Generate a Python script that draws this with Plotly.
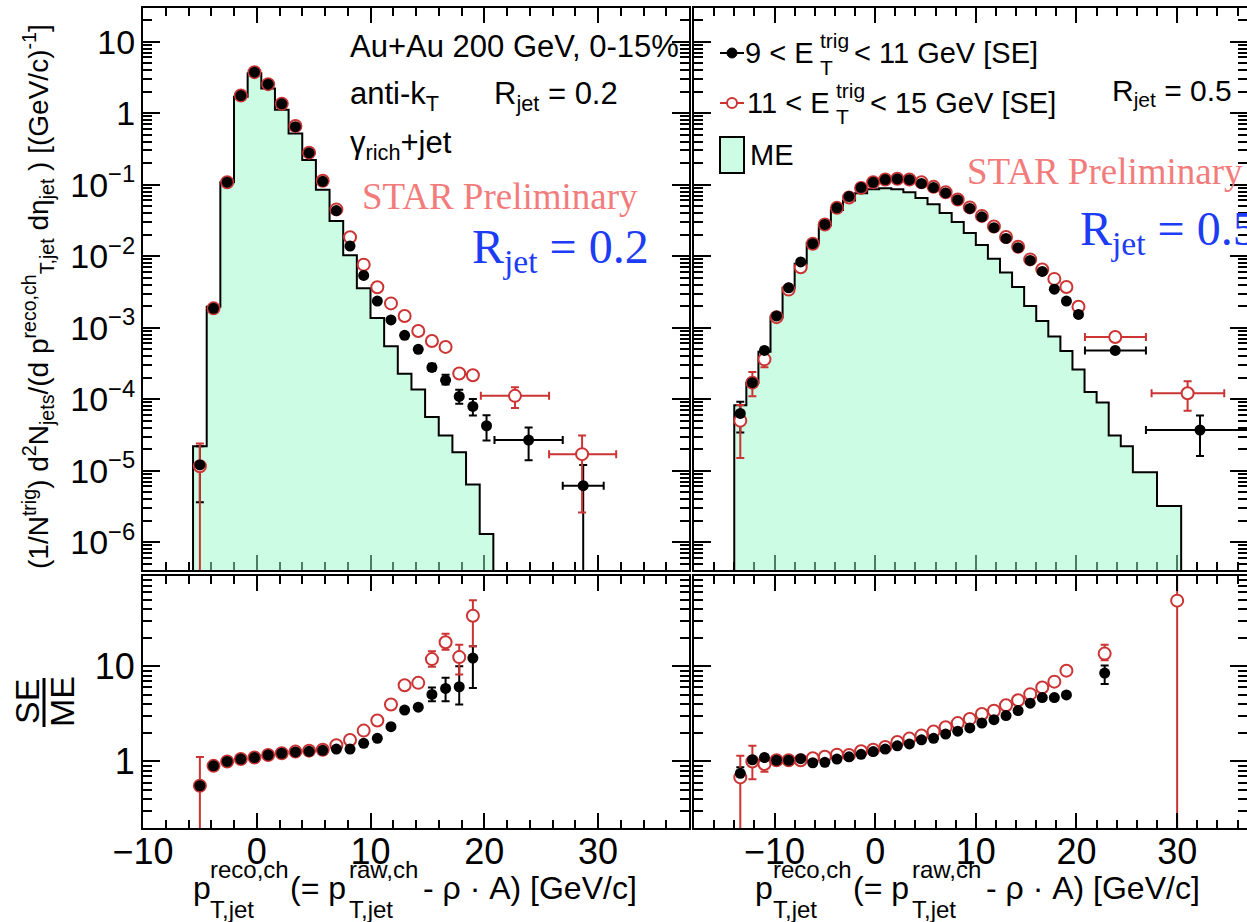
import plotly.graph_objects as go

W, H = 1247, 922
SANS = "Liberation Sans, Arial, Helvetica, sans-serif"
SERIF = "Liberation Serif, Times New Roman, serif"
RED = "#cc3333"
BLUE = "#1d3cf5"
SALMON = "#f27c7c"
FILL = "rgba(153,249,201,0.5)"

# ---------------- R_jet = 0.2 (left) ----------------
L_ME_EDGES = [-5.6, -4.4, -3.2, -2.0, -0.8, 0.4, 1.6, 2.8, 4.0, 5.2, 6.4, 7.6, 8.8,
              10.0, 11.2, 12.4, 13.6, 14.8, 16.0, 17.2, 18.4, 19.6, 20.8]
L_ME = [2.2e-5, 1.95e-3, 0.108, 1.7, 3.6, 2.2, 1.11, 0.52, 0.22, 0.085, 0.031, 0.0103,
        3.55e-3, 1.36e-3, 5.5e-4, 2.26e-4, 1.36e-4, 5.6e-5, 3.1e-5, 1.8e-5, 6.4e-6, 1.3e-6]

L_PT = [-5.0, -3.8, -2.6, -1.4, -0.2, 1.0, 2.2, 3.4, 4.6, 5.8, 7.0, 8.2, 9.4, 10.6, 11.8,
        13.0, 14.2, 15.4, 16.6, 17.8, 19.0, 20.2]
L_SE_9_11 = [1.2e-5, 1.86e-3, 0.108, 1.76, 3.74, 2.54, 1.35, 0.645, 0.277, 0.111, 0.0433,
             0.0138, 5.37e-3, 2.35e-3, 1.28e-3, 7.8e-4, 4.97e-4, 2.77e-4, 1.84e-4, 1.09e-4,
             7.9e-5, 4.24e-5]
L_SE_9_11_EUP = [1.0e-5, 0, 0, 0, 0, 0, 0, 0, 0, 0, 0, 0, 0, 0, 0, 0, 0,
                 3.5e-5, 3.6e-5, 2.6e-5, 2.1e-5, 1.7e-5]
L_SE_9_11_EDN = [8.4e-6, 0, 0, 0, 0, 0, 0, 0, 0, 0, 0, 0, 0, 0, 0, 0, 0,
                 3.0e-5, 2.4e-5, 2.3e-5, 2.0e-5, 1.6e-5]
L_SE_11_15 = [1.15e-5, 1.86e-3, 0.108, 1.76, 3.74, 2.54, 1.35, 0.66, 0.28, 0.113, 0.045,
              0.0184, 7.6e-3, 3.66e-3, 2.18e-3, 1.45e-3, 8.97e-4, 6.5e-4, 5.37e-4, 2.28e-4,
              2.16e-4]
L_SE_11_15_EUP = [1.25e-5, 0, 0, 0, 0, 0, 0, 0, 0, 0, 0, 0, 0, 0, 0, 0, 0, 0, 0, 3.0e-5, 3.0e-5]
L_SE_11_15_EDN = [1.15e-5, 0, 0, 0, 0, 0, 0, 0, 0, 0, 0, 0, 0, 0, 0, 0, 0, 0, 0, 3.0e-5, 3.0e-5]

# wide tail bins
L_TAIL_9_11_X = [23.9, 28.7]
L_TAIL_9_11_XLO = [20.9, 26.9]
L_TAIL_9_11_XHI = [26.9, 30.5]
L_TAIL_9_11_Y = [2.67e-5, 6.15e-6]
L_TAIL_9_11_YLO = [1.4e-5, 0.0]
L_TAIL_9_11_YHI = [4.0e-5, 1.2e-5]
L_TAIL_11_15_X = [22.7, 28.6]
L_TAIL_11_15_XLO = [19.7, 25.7]
L_TAIL_11_15_XHI = [25.7, 31.6]
L_TAIL_11_15_Y = [1.11e-4, 1.7e-5]
L_TAIL_11_15_YLO = [7.5e-5, 2.6e-6]
L_TAIL_11_15_YHI = [1.46e-4, 3.1e-5]

# ratio SE/ME
L_RATIO_PT = [-5.0, -3.8, -2.6, -1.4, -0.2, 1.0, 2.2, 3.4, 4.6, 5.8, 7.0, 8.2, 9.4, 10.6,
              11.8, 13.0, 14.2, 15.4, 16.6, 17.8, 19.0]
L_RATIO_9_11 = [0.556, 0.90, 1.0, 1.06, 1.10, 1.17, 1.22, 1.26, 1.28, 1.31, 1.35, 1.35, 1.55,
                1.75, 2.32, 3.47, 3.72, 5.06, 5.85, 6.1, 12.2]
L_RATIO_9_11_EUP = [0, 0, 0, 0, 0, 0, 0, 0, 0, 0, 0, 0, 0, 0, 0, 0, 0, 0.94, 1.75, 3.9, 4.0]
L_RATIO_9_11_EDN = [0, 0, 0, 0, 0, 0, 0, 0, 0, 0, 0, 0, 0, 0, 0, 0, 0, 0.76, 1.55, 2.13, 6.3]
L_RATIO_11_15 = [0.556, 0.90, 1.0, 1.06, 1.10, 1.17, 1.22, 1.27, 1.30, 1.33, 1.48, 1.68, 2.11,
                 2.70, 3.97, 6.33, 6.7, 11.9, 17.9, 12.5, 34.0]
L_RATIO_11_15_EUP = [0.56, 0, 0, 0, 0, 0, 0, 0, 0, 0, 0, 0, 0, 0, 0, 0, 0, 2.5, 4.1, 4.3, 15.5]
L_RATIO_11_15_EDN = [0.556, 0, 0, 0, 0, 0, 0, 0, 0, 0, 0, 0, 0, 0, 0, 0, 0, 2.0, 3.0, 4.3, 17.8]

# ---------------- R_jet = 0.5 (right) ----------------
R_ME_EDGES = [-14.0, -12.8, -11.6, -10.4, -9.2, -8.0, -6.8, -5.6, -4.4, -3.2, -2.0, -0.8, 0.4,
              1.6, 2.8, 4.0, 5.2, 6.4, 7.6, 8.8, 10.0, 11.2, 12.4, 13.6, 14.8, 16.0, 17.2,
              18.4, 19.6, 20.8, 22.0, 23.2, 24.4, 25.6, 28.0, 30.4]
R_ME = [8.2e-5, 1.7e-4, 4.6e-4, 1.38e-3, 3.6e-3, 7.8e-3, 0.0152, 0.027, 0.044, 0.060, 0.076,
        0.086, 0.089, 0.086, 0.078, 0.065, 0.053, 0.040, 0.030, 0.021, 0.0143, 9.2e-3, 5.9e-3,
        3.7e-3, 2.0e-3, 1.24e-3, 7.5e-4, 4.7e-4, 2.6e-4, 1.26e-4, 9.0e-5, 3.1e-5, 2.2e-5,
        9.5e-6, 3.2e-6]

R_PT = [-13.4, -12.2, -11.0, -9.8, -8.6, -7.4, -6.2, -5.0, -3.8, -2.6, -1.4, -0.2, 1.0, 2.2,
        3.4, 4.6, 5.8, 7.0, 8.2, 9.4, 10.6, 11.8, 13.0, 14.2, 15.4, 16.6, 17.8, 19.0, 20.2]
R_SE_9_11 = [6.3e-5, 1.7e-4, 4.8e-4, 1.45e-3, 3.6e-3, 8.3e-3, 0.0149, 0.0277, 0.0473, 0.068,
             0.091, 0.1077, 0.1175, 0.12, 0.117, 0.104, 0.091, 0.0766, 0.061, 0.0465, 0.0355,
             0.025, 0.0177, 0.0131, 8.7e-3, 6.1e-3, 3.45e-3, 2.35e-3, 1.53e-3]
R_SE_9_11_EUP = [2.9e-5, 2e-5, 0, 0, 0, 0, 0, 0, 0, 0, 0, 0, 0, 0, 0, 0, 0, 0, 0, 0, 0, 0, 0,
                 0, 0, 0, 0, 0, 0]
R_SE_9_11_EDN = [2.9e-5, 2e-5, 0, 0, 0, 0, 0, 0, 0, 0, 0, 0, 0, 0, 0, 0, 0, 0, 0, 0, 0, 0, 0,
                 0, 0, 0, 0, 0, 0]
R_SE_11_15 = [5.0e-5, 1.7e-4, 3.6e-4, 1.4e-3, 3.4e-3, 7.0e-3, 0.0149, 0.0277, 0.0473, 0.066,
              0.09, 0.108, 0.118, 0.121, 0.118, 0.108, 0.093, 0.078, 0.062, 0.048, 0.0365,
              0.026, 0.0185, 0.0135, 9.0e-3, 6.5e-3, 4.8e-3, 3.7e-3, 1.96e-3]
R_SE_11_15_EUP = [3.3e-5, 7e-5, 1.1e-4, 0, 0, 0, 0, 0, 0, 0, 0, 0, 0, 0, 0, 0, 0, 0, 0, 0, 0,
                  0, 0, 0, 0, 0, 0, 0, 0]
R_SE_11_15_EDN = [3.5e-5, 6e-5, 8e-5, 0, 0, 0, 0, 0, 0, 0, 0, 0, 0, 0, 0, 0, 0, 0, 0, 0, 0,
                  0, 0, 0, 0, 0, 0, 0, 0]

R_TAIL_9_11_X = [23.85, 32.27]
R_TAIL_9_11_XLO = [20.84, 26.9]
R_TAIL_9_11_XHI = [26.9, 37.6]
R_TAIL_9_11_Y = [4.8e-4, 3.7e-5]
R_TAIL_9_11_YLO = [4.8e-4, 1.6e-5]
R_TAIL_9_11_YHI = [4.8e-4, 5.9e-5]
R_TAIL_11_15_X = [23.85, 31.04]
R_TAIL_11_15_XLO = [20.84, 27.46]
R_TAIL_11_15_XHI = [26.9, 34.68]
R_TAIL_11_15_Y = [7.4e-4, 1.21e-4]
R_TAIL_11_15_YLO = [7.4e-4, 6.9e-5]
R_TAIL_11_15_YHI = [7.4e-4, 1.78e-4]

R_RATIO_9_11_PT = [-13.4, -12.2, -11.0, -9.8, -8.6, -7.4, -6.2, -5.0, -3.8, -2.6, -1.4, -0.2,
                   1.0, 2.2, 3.4, 4.6, 5.8, 7.0, 8.2, 9.4, 10.6, 11.8, 13.0, 14.2, 15.4, 16.6,
                   17.8, 19.0, 22.8]
R_RATIO_9_11 = [0.75, 1.04, 1.10, 1.03, 1.03, 1.07, 0.97, 0.98, 1.06, 1.12, 1.19, 1.27, 1.35,
                1.46, 1.53, 1.69, 1.75, 1.94, 2.08, 2.25, 2.53, 2.75, 3.04, 3.43, 4.1, 4.7,
                4.7, 5.0, 8.5]
R_RATIO_9_11_EUP = [0.12, 0.08, 0.08, 0, 0, 0, 0, 0, 0, 0, 0, 0, 0, 0, 0, 0, 0, 0, 0, 0, 0, 0,
                    0, 0, 0, 0, 0, 0, 1.7]
R_RATIO_9_11_EDN = [0.12, 0.08, 0.08, 0, 0, 0, 0, 0, 0, 0, 0, 0, 0, 0, 0, 0, 0, 0, 0, 0, 0, 0,
                    0, 0, 0, 0, 0, 0, 2.0]
R_RATIO_11_15_PT = [-13.4, -12.2, -11.0, -9.8, -8.6, -7.4, -6.2, -5.0, -3.8, -2.6, -1.4, -0.2,
                    1.0, 2.2, 3.4, 4.6, 5.8, 7.0, 8.2, 9.4, 10.6, 11.8, 13.0, 14.2, 15.4, 16.6,
                    17.8, 19.0, 22.8, 30.0]
R_RATIO_11_15 = [0.68, 1.0, 0.94, 1.03, 1.03, 1.03, 1.08, 1.12, 1.18, 1.17, 1.28, 1.33, 1.42,
                 1.6, 1.74, 1.87, 2.06, 2.29, 2.53, 2.8, 3.16, 3.41, 3.9, 4.4, 5.1, 6.0, 6.9,
                 9.0, 13.6, 49.0]
R_RATIO_11_15_EUP = [0.47, 0.46, 0.16, 0, 0, 0, 0, 0, 0, 0, 0, 0, 0, 0, 0, 0, 0, 0, 0, 0, 0, 0,
                     0, 0, 0, 0, 0, 0, 3.2, 2000.0]
R_RATIO_11_15_EDN = [0.68, 0.35, 0.16, 0, 0, 0, 0, 0, 0, 0, 0, 0, 0, 0, 0, 0, 0, 0, 0, 0, 0, 0,
                     0, 0, 0, 0, 0, 0, 2.0, 49.0]

Y_MAJOR = [1e-6, 1e-5, 1e-4, 1e-3, 1e-2, 1e-1, 1, 10]
Y_MAJOR_TEXT = ["10<sup>\u22126</sup>", "10<sup>\u22125</sup>", "10<sup>\u22124</sup>",
                "10<sup>\u22123</sup>", "10<sup>\u22122</sup>", "10<sup>\u22121</sup>", "1", "10"]
R_MAJOR = [1, 10]
R_MAJOR_TEXT = ["1", "10"]

fig = go.Figure()


def step_polygon(edges, vals, floor=1e-12):
    xs, ys = [edges[0]], [floor]
    for i, v in enumerate(vals):
        xs += [edges[i], edges[i + 1]]
        ys += [v, v]
    xs.append(edges[-1])
    ys.append(floor)
    return xs, ys


def add_hist(edges, vals, xa, ya):
    xs, ys = step_polygon(edges, vals)
    fig.add_trace(go.Scatter(x=xs, y=ys, mode="lines", fill="toself", fillcolor=FILL,
                             line=dict(color="black", width=2), xaxis=xa, yaxis=ya,
                             hoverinfo="skip", showlegend=False))


def add_err(x, y, eup, edn, color, xa, ya):
    idx = [i for i in range(len(y)) if eup[i] > 0 or edn[i] > 0]
    if not idx:
        return
    fig.add_trace(go.Scatter(
        x=[x[i] for i in idx], y=[y[i] for i in idx], mode="markers",
        marker=dict(size=2, opacity=0),
        error_y=dict(type="data", symmetric=False, array=[eup[i] for i in idx],
                     arrayminus=[edn[i] for i in idx], color=color, thickness=2, width=4),
        xaxis=xa, yaxis=ya, hoverinfo="skip", showlegend=False))


def add_tail_err(x, xlo, xhi, y, ylo, yhi, color, xa, ya):
    fig.add_trace(go.Scatter(
        x=x, y=y, mode="markers", marker=dict(size=2, opacity=0),
        error_x=dict(type="data", symmetric=False,
                     array=[xhi[i] - x[i] for i in range(len(x))],
                     arrayminus=[x[i] - xlo[i] for i in range(len(x))],
                     color=color, thickness=2, width=4),
        error_y=dict(type="data", symmetric=False,
                     array=[yhi[i] - y[i] for i in range(len(x))],
                     arrayminus=[y[i] - ylo[i] for i in range(len(x))],
                     color=color, thickness=2, width=4),
        xaxis=xa, yaxis=ya, hoverinfo="skip", showlegend=False))


def add_black(x, y, xa, ya):
    fig.add_trace(go.Scatter(x=x[:len(y)], y=y, mode="markers",
                             marker=dict(symbol="circle", size=11, color="black"),
                             xaxis=xa, yaxis=ya, showlegend=False))


def add_red(x, y, xa, ya):
    fig.add_trace(go.Scatter(x=x[:len(y)], y=y, mode="markers",
                             marker=dict(symbol="circle", size=12, color="white",
                                         line=dict(color=RED, width=2)),
                             xaxis=xa, yaxis=ya, showlegend=False))


# ---- top left
add_hist(L_ME_EDGES, L_ME, "x", "y")
add_err(L_PT, L_SE_9_11, L_SE_9_11_EUP, L_SE_9_11_EDN, "black", "x", "y")
add_tail_err(L_TAIL_9_11_X, L_TAIL_9_11_XLO, L_TAIL_9_11_XHI, L_TAIL_9_11_Y,
             L_TAIL_9_11_YLO, L_TAIL_9_11_YHI, "black", "x", "y")
add_err(L_PT, L_SE_11_15, L_SE_11_15_EUP, L_SE_11_15_EDN, RED, "x", "y")
add_tail_err(L_TAIL_11_15_X, L_TAIL_11_15_XLO, L_TAIL_11_15_XHI, L_TAIL_11_15_Y,
             L_TAIL_11_15_YLO, L_TAIL_11_15_YHI, RED, "x", "y")
add_red(L_PT[:len(L_SE_11_15)] + L_TAIL_11_15_X, L_SE_11_15 + L_TAIL_11_15_Y, "x", "y")
add_black(L_PT + L_TAIL_9_11_X, L_SE_9_11 + L_TAIL_9_11_Y, "x", "y")

# ---- top right
add_hist(R_ME_EDGES, R_ME, "x2", "y2")
add_err(R_PT, R_SE_9_11, R_SE_9_11_EUP, R_SE_9_11_EDN, "black", "x2", "y2")
add_tail_err(R_TAIL_9_11_X, R_TAIL_9_11_XLO, R_TAIL_9_11_XHI, R_TAIL_9_11_Y,
             R_TAIL_9_11_YLO, R_TAIL_9_11_YHI, "black", "x2", "y2")
add_err(R_PT, R_SE_11_15, R_SE_11_15_EUP, R_SE_11_15_EDN, RED, "x2", "y2")
add_tail_err(R_TAIL_11_15_X, R_TAIL_11_15_XLO, R_TAIL_11_15_XHI, R_TAIL_11_15_Y,
             R_TAIL_11_15_YLO, R_TAIL_11_15_YHI, RED, "x2", "y2")
add_red(R_PT + R_TAIL_11_15_X, R_SE_11_15 + R_TAIL_11_15_Y, "x2", "y2")
add_black(R_PT + R_TAIL_9_11_X, R_SE_9_11 + R_TAIL_9_11_Y, "x2", "y2")

# ---- bottom left
add_err(L_RATIO_PT, L_RATIO_9_11, L_RATIO_9_11_EUP, L_RATIO_9_11_EDN, "black", "x3", "y3")
add_err(L_RATIO_PT, L_RATIO_11_15, L_RATIO_11_15_EUP, L_RATIO_11_15_EDN, RED, "x3", "y3")
add_red(L_RATIO_PT, L_RATIO_11_15, "x3", "y3")
add_black(L_RATIO_PT, L_RATIO_9_11, "x3", "y3")

# ---- bottom right
add_err(R_RATIO_9_11_PT, R_RATIO_9_11, R_RATIO_9_11_EUP, R_RATIO_9_11_EDN, "black", "x4", "y4")
add_err(R_RATIO_11_15_PT, R_RATIO_11_15, R_RATIO_11_15_EUP, R_RATIO_11_15_EDN, RED, "x4", "y4")
add_red(R_RATIO_11_15_PT, R_RATIO_11_15, "x4", "y4")
add_black(R_RATIO_9_11_PT, R_RATIO_9_11, "x4", "y4")

# ---------------- axes ----------------
LEFT_DOM = [143 / W, 689 / W]
RIGHT_DOM = [694 / W, 1.0]
TOP_DOM = [1 - 570 / H, 1 - 8 / H]
BOT_DOM = [1 - 828 / H, 1 - 576 / H]

minor_log_top = [m * 10.0 ** e for e in range(-7, 2) for m in range(2, 10)]
minor_log_bot = [m * 10.0 ** e for e in range(-1, 2) for m in range(2, 10)]

base = dict(showline=True, linecolor="black", linewidth=2, mirror="allticks",
            ticks="inside", tickcolor="black", tickwidth=2, showgrid=False, zeroline=False,
            automargin=False, tickfont=dict(family=SANS, size=36, color="black"))


def xax(dom, rng, anchor, labels, layer):
    d = dict(base)
    d.update(domain=dom, range=rng, anchor=anchor, tickmode="linear", tick0=0, dtick=10,
             ticklen=15, showticklabels=labels, layer=layer, ticklabelstandoff=-9,
             minor=dict(ticks="inside", tickmode="linear", tick0=0, dtick=2, ticklen=8,
                        tickwidth=1.5, tickcolor="black", showgrid=False))
    return d


def yax(dom, rng, anchor, labels, tv, tt, minor_vals, size):
    d = dict(base)
    d.update(domain=dom, range=rng, anchor=anchor, type="log", tickmode="array",
             tickvals=tv, ticktext=tt, ticklen=17, showticklabels=labels,
             ticklabelstandoff=-1, tickfont=dict(family=SANS, size=size, color="black"),
             minor=dict(ticks="inside", tickmode="array", tickvals=minor_vals, ticklen=9,
                        tickwidth=1.5, tickcolor="black", showgrid=False))
    return d


fig.update_layout(
    xaxis=xax(LEFT_DOM, [-10, 38], "y", False, "below traces"),
    xaxis2=xax(RIGHT_DOM, [-18, 36.94], "y2", False, "below traces"),
    xaxis3=xax(LEFT_DOM, [-10, 38], "y3", True, "above traces"),
    xaxis4=xax(RIGHT_DOM, [-18, 36.94], "y4", True, "above traces"),
    yaxis=yax(TOP_DOM, [-6.39, 1.47], "x", True, Y_MAJOR, Y_MAJOR_TEXT, minor_log_top, 34),
    yaxis2=yax(TOP_DOM, [-6.39, 1.47], "x2", False, Y_MAJOR, Y_MAJOR_TEXT, minor_log_top, 34),
    yaxis3=yax(BOT_DOM, [-0.699, 1.949], "x3", True, R_MAJOR, R_MAJOR_TEXT, minor_log_bot, 36),
    yaxis4=yax(BOT_DOM, [-0.699, 1.949], "x4", False, R_MAJOR, R_MAJOR_TEXT, minor_log_bot, 36),
)


# ---------------- texts ----------------
def ann(text, x, y, size, color="black", family=SANS, xanchor="left", yanchor="middle",
        angle=0):
    return dict(text=text, x=x / W, y=1 - y / H, xref="paper", yref="paper",
                xanchor=xanchor, yanchor=yanchor, showarrow=False, textangle=angle,
                font=dict(size=size, color=color, family=family))


anns = []
# left panel labels
anns.append(ann("Au+Au 200 GeV, 0-15%", 348, 47, 31))
anns.append(ann("anti-k<sub>T</sub>", 348, 96, 31))
anns.append(ann("R<sub>jet</sub> = 0.2", 492, 96, 31))
anns.append(ann("\u03b3<sub>rich</sub>+jet", 348, 145, 31))
anns.append(ann("STAR Preliminary", 360, 196, 37, SALMON, SERIF))
anns.append(ann("R<sub>jet</sub> = 0.2", 470, 250, 48, BLUE, SERIF))
# right panel labels
anns.append(ann("R<sub>jet</sub> = 0.5", 1110, 93, 30))
anns.append(ann("STAR Preliminary", 965, 171, 37, SALMON, SERIF))
anns.append(ann("R<sub>jet</sub> = 0.5", 1078, 232, 48, BLUE, SERIF))
# legend
anns.append(ann("9 < E", 816, 53, 29, xanchor="right"))
anns.append(ann("trig", 818, 40, 21))
anns.append(ann("T", 818, 67, 21))
anns.append(ann("< 11 GeV [SE]", 852, 53, 29))
anns.append(ann("11 < E", 832, 103, 29, xanchor="right"))
anns.append(ann("trig", 834, 90, 21))
anns.append(ann("T", 834, 117, 21))
anns.append(ann("< 15 GeV [SE]", 868, 103, 29))
anns.append(ann("ME", 748, 155, 29))
# x titles
for (xp, xs, xq, xr, xd) in [(191, 208, 288, 347, 421), (753, 771, 851, 910, 984)]:
    anns.append(ann("p", xp, 888, 32))
    anns.append(ann("reco,ch", xs, 869, 24))
    anns.append(ann("T,jet", xs, 909, 24))
    anns.append(ann("(= p", xq, 888, 32))
    anns.append(ann("raw,ch", xr, 869, 24))
    anns.append(ann("T,jet", xr, 909, 24))
    anns.append(ann("- \u03c1 \u00b7 A) [GeV/c]", xd, 888, 32))
# y titles
anns.append(ann("(1/N<sup>trig</sup>) d<sup>2</sup>N<sub>jets</sub>/(d p<sup>reco,ch</sup>"
                "<sub>T,jet</sub> d\u03b7<sub>jet</sub> ) [(GeV/c)<sup>-1</sup>]",
                38, 297, 28, xanchor="center", angle=-90))
anns.append(ann("SE", 27, 702, 34, xanchor="center", angle=-90))
anns.append(ann("ME", 62, 702, 34, xanchor="center", angle=-90))

shapes = []
# ratio reference lines (log axis -> log10(1) = 0)
for xr, yr in [("x3 domain", "y3"), ("x4 domain", "y4")]:
    shapes.append(dict(type="line", xref=xr, yref=yr, x0=0, x1=1, y0=0, y1=0,
                       line=dict(color="black", width=2, dash="dash")))
# fraction bar of SE/ME
shapes.append(dict(type="line", xref="paper", yref="paper", x0=44 / W, x1=44 / W,
                   y0=1 - 727 / H, y1=1 - 678 / H, line=dict(color="black", width=3)))


def px(x):
    return x / W


def py(y):
    return 1 - y / H


# legend symbols
shapes.append(dict(type="line", xref="paper", yref="paper", x0=px(720), x1=px(744),
                   y0=py(53), y1=py(53), line=dict(color="black", width=2)))
shapes.append(dict(type="circle", xref="paper", yref="paper", x0=px(727), x1=px(737),
                   y0=py(58), y1=py(48), fillcolor="black", line=dict(color="black", width=1)))
shapes.append(dict(type="line", xref="paper", yref="paper", x0=px(720), x1=px(744),
                   y0=py(103), y1=py(103), line=dict(color=RED, width=2)))
shapes.append(dict(type="circle", xref="paper", yref="paper", x0=px(727), x1=px(737),
                   y0=py(108), y1=py(98), fillcolor="white", line=dict(color=RED, width=2)))
shapes.append(dict(type="rect", xref="paper", yref="paper", x0=px(720), x1=px(744),
                   y0=py(173), y1=py(137), fillcolor="#ccfce4", line=dict(color="black", width=2)))

fig.update_layout(
    width=W, height=H, autosize=False,
    margin=dict(l=0, r=0, t=0, b=0, pad=0),
    paper_bgcolor="white", plot_bgcolor="white",
    showlegend=False, annotations=anns, shapes=shapes,
    font=dict(family=SANS, color="black"),
)

fig.write_html("out.html")
